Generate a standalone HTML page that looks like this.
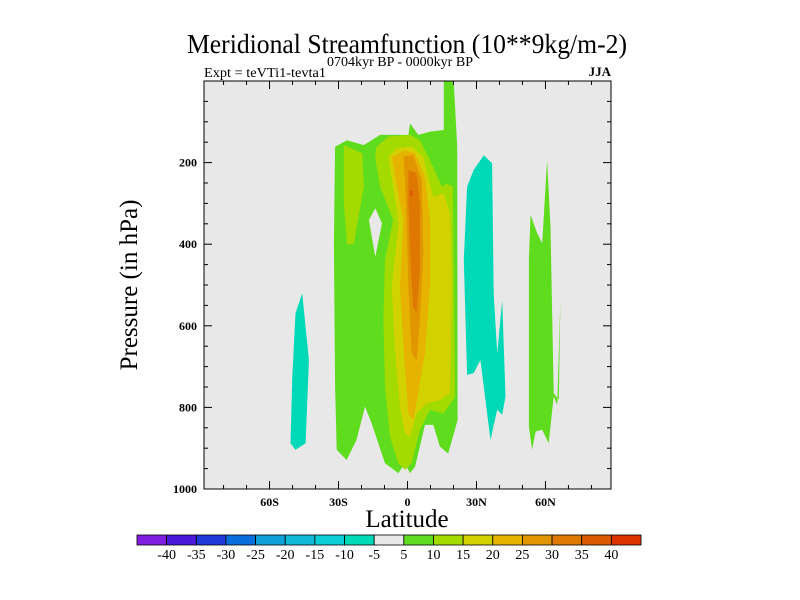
<!DOCTYPE html>
<html><head><meta charset="utf-8"><style>
html,body{margin:0;padding:0;background:#fff;}
svg{display:block;font-family:"Liberation Serif",serif;}
</style></head><body>
<svg id="chart" width="800" height="600">
<text x="407" y="53" font-size="27" text-anchor="middle" textLength="440" lengthAdjust="spacingAndGlyphs">Meridional Streamfunction (10**9kg/m-2)</text>
<text x="400" y="66" font-size="14" text-anchor="middle" textLength="146" lengthAdjust="spacingAndGlyphs">0704kyr BP - 0000kyr BP</text>
<text x="204" y="77" font-size="14" textLength="122" lengthAdjust="spacingAndGlyphs">Expt = teVTi1-tevta1</text>
<text x="611" y="76" font-size="13" text-anchor="end" font-weight="bold">JJA</text>
<rect x="204" y="81" width="407" height="408" fill="#e8e8e8"/>
<g id="fills"></g>
<g id="axes"></g>
<rect x="204" y="81" width="407" height="408" fill="none" stroke="#000" stroke-width="1"/>
<text transform="translate(137,285) rotate(-90)" font-size="25" text-anchor="middle">Pressure (in hPa)</text>
<text x="407" y="527" font-size="25" text-anchor="middle">Latitude</text>
<g id="colorbar"></g>
</svg>
<script>
const levelColors = ["#7f1ee0","#4a1ad8","#1e3ad8","#0a6fdc","#0f9fd9","#10b8d8","#0dcdd6","#00d9b8","#e8e8e8","#5fdc1e","#a3db00","#d2d200","#e6b400","#e19600","#de7800","#dc5a00","#dc3200"];
const colorbarLabels = ["-40","-35","-30","-25","-20","-15","-10","-5","5","10","15","20","25","30","35","40"];
const yTicks = [200,400,600,800,1000];
const xTicks = [-60,-30,0,30,60];
const xTickLabels = ["60S","30S","0","30N","60N"];
// contour polygons: [lat, pressure]
const green5Main = [[-31.5,161],[-26.3,145],[-19,157],[-11.9,132],[0.4,132],[1.1,104],[4.7,132],[9.8,124],[15.8,120],[15.8,0],[20.1,0],[21.6,161],[21.8,831],[17.7,913],[14.1,896],[11.2,843],[7.6,843],[3.3,945],[1.1,961],[-1.1,937],[-4,961],[-9.8,937],[-15.6,839],[-18.5,798],[-22.2,880],[-26.5,929],[-30.8,904],[-31.5,749],[-32,400]];
const hole = [[-16.8,341],[-14,312],[-11.1,349],[-14,431]];
const green10Left = [[-27.7,157],[-19.7,177],[-19,259],[-23.3,398],[-26.2,402],[-27.7,300]];
const green10Main = [[-13.4,161],[-8.3,136],[1.1,132],[5.4,145],[9.8,194],[14.9,259],[17,251],[19.7,259],[20.7,774],[15.6,815],[9.8,806],[5.4,855],[1.8,937],[-1.1,953],[-4,937],[-7.6,872],[-9.8,749],[-10.5,586],[-9.8,439],[-6.2,341],[-11.9,259],[-14.1,186]];
const yellow15 = [[-8.3,186],[-4.7,165],[1.8,161],[6.8,186],[11.2,284],[15.6,275],[18.5,324],[19.3,504],[18.5,765],[14.1,782],[8.3,790],[4,815],[1.1,872],[-1.1,864],[-3.3,798],[-5.4,667],[-6.8,504],[-3.9,349],[-6.2,259]];
const orange20 = [[-6.8,186],[-1.1,169],[3.3,177],[7.6,235],[9.8,341],[9.8,504],[7.6,667],[4.7,765],[2.5,831],[0.4,815],[-1.1,708],[-3.3,504],[-1.8,341],[-4.7,259]];
const orange25 = [[-1.8,186],[2.5,181],[6.2,243],[6.9,422],[5.4,586],[4,684],[1.8,667],[0.4,504],[-0.4,341],[-1.1,243]];
const orange30 = [[0.4,218],[4,226],[5.4,300],[5.4,463],[4,569],[2.5,553],[1.1,422],[0.4,300]];
const red35 = [[1.0,268],[2.2,268],[2.2,282],[1.0,282]];
const tealLeft = [[-45.8,520],[-42.9,684],[-44.3,888],[-48.7,904],[-50.9,888],[-50.1,724],[-48.7,569]];
const tealRight = [[25.9,259],[28.8,218],[33.2,182],[36.8,202],[37.5,520],[39,667],[41.2,537],[42.6,773],[41.2,818],[39,806],[36.1,880],[31.7,684],[28.8,716],[25.9,720],[24.5,439]];
const greenRight = [[53.5,328],[56.4,373],[58.6,398],[60.7,194],[62.2,357],[63.6,765],[65.8,782],[66.5,537],[65.1,794],[63.6,773],[61.4,888],[58.6,855],[55.7,859],[54.2,904],[52.8,847],[52.8,439]];

const NS="http://www.w3.org/2000/svg";
const X0=204,X1=611,Y0=81,Y1=489,LATMIN=-88.5,LATMAX=88.5;
function xScale(lat){return X0+(lat-LATMIN)/(LATMAX-LATMIN)*(X1-X0);}
function yScale(p){return Y0+p/1000*(Y1-Y0);}
function mk(tag,attrs,parent){const e=document.createElementNS(NS,tag);for(const k in attrs)e.setAttribute(k,attrs[k]);parent.appendChild(e);return e;}
const fills=document.getElementById('fills');
const polys=[[green5Main,9,'contour-5-main'],[hole,8,'contour-hole'],[green10Left,10,'contour-10-left'],[green10Main,10,'contour-10-main'],[yellow15,11,'contour-15'],[orange20,12,'contour-20'],[orange25,13,'contour-25'],[orange30,14,'contour-30'],[red35,15,'contour-35'],[tealLeft,7,'contour-neg5-left'],[tealRight,7,'contour-neg5-right'],[greenRight,9,'contour-5-right']];
polys.forEach(([pts,lvl,name])=>{
  const p=mk('polygon',{points:pts.map(q=>xScale(q[0]).toFixed(1)+','+yScale(q[1]).toFixed(1)).join(' '),fill:levelColors[lvl]},fills);
  
  
});
const axes=document.getElementById('axes');
for(let p=50;p<1000;p+=50){
  const y=yScale(p),major=p%200===0;const L=major?8:4;
  const t1=mk('line',{x1:X0,x2:X0+L,y1:y,y2:y,stroke:'#000'},axes);
  
  
  const t2=mk('line',{x1:X1,x2:X1-L,y1:y,y2:y,stroke:'#000'},axes);
  
  
}
yTicks.forEach(p=>{
  const t=mk('text',{x:X0-7,y:yScale(p)+4,'font-size':12,'font-weight':'bold','text-anchor':'end'},axes);
  t.textContent=p;
  
  
});
for(let lat=-80;lat<=80;lat+=10){
  const x=xScale(lat),major=lat%30===0;const L=major?8:4;
  const t1=mk('line',{x1:x,x2:x,y1:Y1,y2:Y1-L,stroke:'#000'},axes);
  
  
  const t2=mk('line',{x1:x,x2:x,y1:Y0,y2:Y0+L,stroke:'#000'},axes);
  
  
}
xTicks.forEach((lat,i)=>{
  const t=mk('text',{x:xScale(lat),y:506,'font-size':12,'font-weight':'bold','text-anchor':'middle'},axes);
  t.textContent=xTickLabels[i];
  
  
});
const cb=document.getElementById('colorbar');
const CB0=137,CB1=641,CBY=535,CBH=10,w=(CB1-CB0)/levelColors.length;
levelColors.forEach((c,i)=>{
  const r=mk('rect',{x:CB0+i*w,y:CBY,width:w,height:CBH,fill:c,stroke:'#000','stroke-width':0.8},cb);
  
  
});
colorbarLabels.forEach((s,i)=>{
  const t=mk('text',{x:CB0+(i+1)*w,y:559,'font-size':14,'text-anchor':'middle'},cb);
  t.textContent=s;
  
  
});
</script>
</body></html>
